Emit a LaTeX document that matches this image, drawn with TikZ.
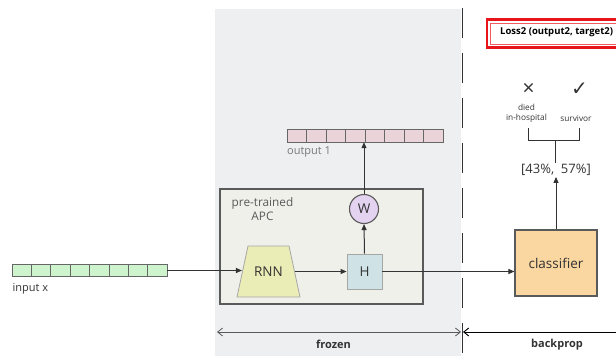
\documentclass[tikz,border=0pt]{standalone}
\usepackage{fontspec}
\setmainfont{Open Sans}
\newfontfamily\symfont{DejaVu Sans}
\usetikzlibrary{arrows.meta,shapes.geometric}
\definecolor{bandgray}{HTML}{EEEFF1}
\definecolor{apcfill}{HTML}{F0F0EB}
\definecolor{ingreen}{HTML}{CDF4CC}
\definecolor{outpink}{HTML}{EBD3DA}
\definecolor{rnnfill}{HTML}{EBEDB6}
\definecolor{hfill}{HTML}{CFE3E7}
\definecolor{wfill}{HTML}{E4D2F1}
\definecolor{clsfill}{HTML}{FAD6A0}
\definecolor{lossred}{HTML}{E8141B}
\definecolor{txt}{HTML}{333333}
\definecolor{soft}{HTML}{5A5A5A}
\tikzset{
  cellline/.style={draw=gray!80!black, line width=0.8pt},
  blockbox/.style={draw=soft, line width=1.1pt, inner sep=0pt, font=\fontsize{13.5}{16}\selectfont, text=txt},
  conn/.style={draw=txt, line width=1pt, -{Triangle[length=6pt,width=5pt]}},
  plain/.style={draw=txt, line width=1pt},
  span/.style={line width=0.8pt, {Straight Barb[length=5pt,width=8pt]}-{Straight Barb[length=5pt,width=8pt]}},
  smalltxt/.style={font=\fontsize{11}{13}\selectfont, inner sep=0pt},
  tinytxt/.style={font=\fontsize{8.3}{9.5}\selectfont, inner sep=0pt, text=txt, align=center},
}
\begin{document}
\begin{tikzpicture}[x=1pt,y=-1pt]
\useasboundingbox (0,0) rectangle (616,356);
% frozen band
\fill[bandgray] (215,9) rectangle (461,356);
\draw[draw=txt, line width=1pt, dash pattern=on 30pt off 15pt] (462,8) -- (462,353);

% Loss box
\draw[lossred, line width=2.6pt] (487,19.5) rectangle (630,47.5);
\draw[lossred!70, line width=0.8pt] (490.8,23) rectangle (630,44);
\node[font=\bfseries\fontsize{9.5}{11}\selectfont, inner sep=0pt, anchor=west] (loss) at (500,32.5) {Loss2 (output2, target2)};

% input array
\foreach \i in {0,...,7} \path[cellline, fill=ingreen] (12+\i*19.4,264.5) rectangle ++(19.4,12);
\node[minimum width=155.2pt, minimum height=12pt, inner sep=0pt] (inp) at (89.6,270.5) {};
\node[smalltxt, text=txt, anchor=west] (inlab) at (12.5,288.5) {input x};

% pre-trained APC box
\node[draw=soft, fill=apcfill, line width=1.3pt, minimum width=203pt, minimum height=115pt, inner sep=0pt] (apc) at (321.5,246.5) {};
\node[smalltxt, text=soft, align=center, font=\fontsize{11.8}{14}\selectfont] (apclab) at (262.5,209) {pre-trained\\APC};

% RNN (trapezoid drawn directly, node carries label and anchors)
\path[fill=rnnfill, draw=gray!70, line width=0.8pt] (237,297) -- (248,246) -- (289,246) -- (300,297) -- cycle;
\node[blockbox, draw=none, minimum width=52pt, minimum height=51pt] (rnn) at (268.5,271.5) {RNN};
% H
\node[blockbox, fill=hfill, draw=gray!70, line width=0.8pt, minimum width=35pt, minimum height=35pt] (h) at (364.5,271.5) {H};
% W
\node[blockbox, circle, fill=wfill, minimum size=29pt] (w) at (364,209) {W};

% output array
\foreach \i in {0,...,7} \path[cellline, fill=outpink] (287+\i*19.5,129.5) rectangle ++(19.5,12.5);
\node[minimum width=156pt, minimum height=12.5pt, inner sep=0pt] (out) at (365,135.75) {};
\node[smalltxt, text=gray!95!black, anchor=west] (outlab) at (287,151.5) {output 1};

% classifier
\node[blockbox, fill=clsfill, minimum width=82pt, minimum height=66pt] (cls) at (556,263) {classifier};

% probabilities
\node[inner sep=1pt, font=\fontsize{13}{15}\selectfont, text=txt] (prob) at (556,170) {[43\%,\ \ 57\%]};
\coordinate (brk) at (555,140);
\coordinate (bl) at (528,128);
\coordinate (br) at (579,128);
\node[inner sep=0pt, font=\fontsize{21}{22}\selectfont, text=txt] (cross) at (528.5,89.5) {×};
\node[inner sep=0pt, font=\symfont\fontsize{20}{21}\selectfont, text=txt] (check) at (579.5,89) {✓};
\node[tinytxt] (died) at (526.5,113.5) {died\\in-hospital};
\node[tinytxt] (surv) at (576,118) {survivor};

% connectors
\draw[conn] (inp.east) -- (inp.east -| rnn.west);
\draw[conn] (rnn.east |- h.west) -- (h.west);
\draw[conn] (h.north) -- (w.south);
\draw[conn] (w.north) -- (w.north |- out.south);
\draw[conn] (h.east) -- (h.east -| cls.west);
\draw[conn] (cls.north -| prob.south) -- (prob.south);
\draw[plain] (prob.north -| brk) -- (brk);
\draw[plain] (bl) -- (bl |- brk) -- (br |- brk) -- (br);

% bottom spans
\coordinate (fl) at (217,332);
\coordinate (fr) at (461,332);
\coordinate (bpl) at (463,332);
\coordinate (bpr) at (620,332);
\draw[span, draw=soft] (fl) -- (fr);
\draw[line width=0.9pt, draw=black, {Straight Barb[length=5pt,width=8pt]}-] (bpl) -- (bpr);
\node[font=\bfseries\fontsize{11}{13}\selectfont, inner sep=0pt, text=txt] (frz) at (333.5,344.5) {frozen};
\node[font=\bfseries\fontsize{11}{13}\selectfont, inner sep=0pt, text=txt] (bp) at (557,344.5) {backprop};
\end{tikzpicture}
\end{document}
